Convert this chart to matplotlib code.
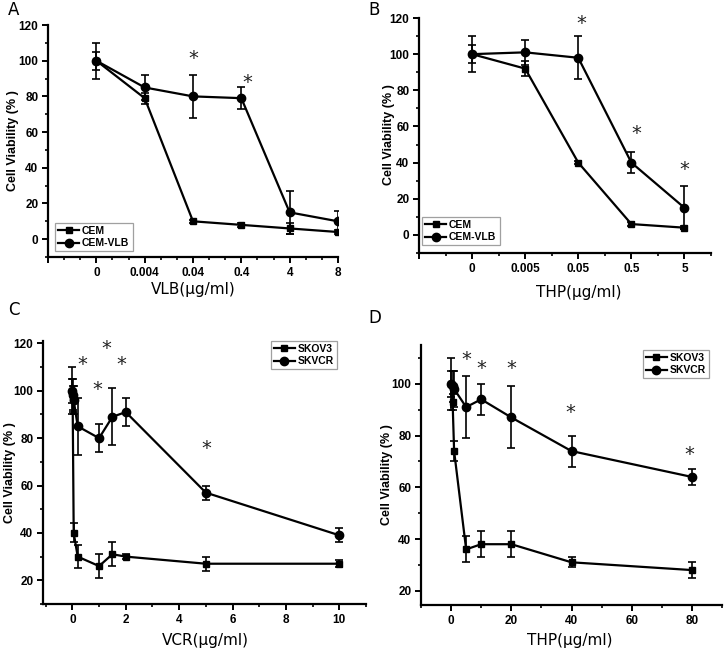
import matplotlib
matplotlib.use("Agg")
import matplotlib.pyplot as plt
from matplotlib.ticker import MultipleLocator, FixedLocator
from matplotlib import font_manager

# ---------------- data ----------------
# Panel A (categorical doses)
a_labels = ["0", "0.004", "0.04", "0.4", "4", "8"]
a_cem = [100, 79, 10, 8, 6, 4]
a_cem_err = [5, 3, 1, 1, 3, 1]
a_vlb = [100, 85, 80, 79, 15, 10]
a_vlb_err = [10, 7, 12, 6, 12, 6]
a_star_idx = [2.0, 3.12]
a_star_y = [101, 88]

# Panel B (categorical doses)
b_labels = ["0", "0.005", "0.05", "0.5", "5"]
b_cem = [100, 92, 40, 6, 4]
b_cem_err = [5, 4, 1, 1, 1]
b_vlb = [100, 101, 98, 40, 15]
b_vlb_err = [10, 7, 12, 6, 12]
b_star_idx = [2.05, 3.1, 4.0]
b_star_y = [117, 56, 36]

# Panel C (VCR)
c_x = [0, 0.01, 0.05, 0.2, 1, 1.5, 2, 5, 10]
c_skov3 = [100, 97, 40, 30, 26, 31, 30, 27, 27]
c_skov3_err = [5, 5, 4, 5, 5, 5, 1, 3, 1.5]
c_skvcr = [100, 98, 96, 85, 80, 89, 91, 57, 39]
c_skvcr_err = [10, 7, 6, 12, 6, 12, 6, 3, 3]
c_star_x = [0.37, 0.95, 1.27, 1.84, 5.0]
c_star_y = [111, 100.5, 118, 111, 75.5]

# Panel D (THP)
d_x = [0, 0.5, 1, 5, 10, 20, 40, 80]
d_skov3 = [100, 93, 74, 36, 38, 38, 31, 28]
d_skov3_err = [5, 3, 4, 5, 5, 5, 2, 3]
d_skvcr = [100, 99, 98, 91, 94, 87, 74, 64]
d_skvcr_err = [10, 6, 7, 12, 6, 12, 6, 3]
d_star_x = [5, 10, 20, 39.5, 79]
d_star_y = [109.3, 105.8, 105.8, 89, 72.5]

# ---------------- fonts ----------------
installed = {f.name for f in font_manager.fontManager.ttflist}
TICKFONT = "Liberation Sans Narrow" if "Liberation Sans Narrow" in installed else "Liberation Sans"
BOLDFONT = "Liberation Sans"

W, H = 725, 651
fig = plt.figure(figsize=(W / 100, H / 100), dpi=100)


def make_axes(left, right, top, bottom):
    return fig.add_axes([left / W, 1 - bottom / H, (right - left) / W, (bottom - top) / H])


def style(ax):
    for s in ("top", "right"):
        ax.spines[s].set_visible(False)
    for s in ("left", "bottom"):
        ax.spines[s].set_linewidth(1.6)
    ax.tick_params(which="major", direction="out", length=4, width=1.4, pad=3)
    ax.tick_params(which="minor", direction="out", length=2.5, width=1.2)
    for lab in ax.get_xticklabels() + ax.get_yticklabels():
        lab.set_fontfamily(TICKFONT)
        lab.set_fontweight("bold")
        lab.set_fontsize(8.5)


def series(ax, x, y, e, marker, ms):
    c = ax.errorbar(x, y, yerr=e, color="black", marker=marker, ms=ms, lw=1.6,
                    elinewidth=1.2, capsize=3, capthick=1.2)
    return c.lines[0]


def legend(ax, handles, labels, loc, anchor_px):
    leg = ax.legend(handles, labels, loc=loc,
                    bbox_to_anchor=(anchor_px[0] / W, 1 - anchor_px[1] / H),
                    bbox_transform=fig.transFigure, frameon=True, fancybox=False,
                    borderpad=0.3, labelspacing=0.2, handlelength=2.0, handletextpad=0.3,
                    borderaxespad=0, prop={"family": BOLDFONT, "weight": "bold", "size": 7.5})
    leg.get_frame().set_edgecolor("#888888")
    leg.get_frame().set_linewidth(0.9)


def stars(ax, xs, ys):
    for x, y in zip(xs, ys):
        ax.text(x, y, "*", ha="center", va="center", fontsize=14, color="#222222")


def ylabel(px, py):
    fig.text(px / W, 1 - py / H, "Cell Viability (% )", rotation=90, ha="center", va="center",
             fontfamily=BOLDFONT, fontweight="bold", fontsize=9)


def xlabel(px, py, text):
    fig.text(px / W, 1 - py / H, text, ha="center", va="center", fontsize=11,
             fontfamily="DejaVu Sans")


SQ, CI = 5, 6

# ---------------- Panel A ----------------
axA = make_axes(48, 338, 25, 257)
xa = list(range(1, len(a_labels) + 1))
hA = [series(axA, xa, a_cem, a_cem_err, "s", SQ),
      series(axA, xa, a_vlb, a_vlb_err, "o", CI)]
axA.set_xlim(0, len(a_labels))
axA.set_ylim(-10, 120)
axA.xaxis.set_major_locator(FixedLocator(range(0, len(a_labels) + 1)))
axA.set_xticklabels([""] + a_labels)
axA.xaxis.set_minor_locator(MultipleLocator(1 / 3))
axA.yaxis.set_major_locator(FixedLocator(range(0, 121, 20)))
axA.yaxis.set_minor_locator(MultipleLocator(10))
stars(axA, [i + 1 for i in a_star_idx], a_star_y)
legend(axA, hA, ["CEM", "CEM-VLB"], "upper left", (55, 223))
style(axA)
ylabel(13, 141)
xlabel(193, 290, "VLB(μg/ml)")

# ---------------- Panel B ----------------
axB = make_axes(419, 711, 18, 253)
xb = list(range(1, len(b_labels) + 1))
hB = [series(axB, xb, b_cem, b_cem_err, "s", SQ),
      series(axB, xb, b_vlb, b_vlb_err, "o", CI)]
axB.set_xlim(0, len(b_labels) + 0.5)
axB.set_ylim(-10, 120)
axB.xaxis.set_major_locator(FixedLocator(range(0, len(b_labels) + 1)))
axB.set_xticklabels([""] + b_labels)
axB.xaxis.set_minor_locator(MultipleLocator(0.5))
axB.yaxis.set_major_locator(FixedLocator(range(0, 121, 20)))
axB.yaxis.set_minor_locator(MultipleLocator(10))
stars(axB, [i + 1 for i in b_star_idx], b_star_y)
legend(axB, hB, ["CEM", "CEM-VLB"], "upper left", (422, 217))
style(axB)
ylabel(389, 135)
xlabel(579, 293, "THP(μg/ml)")

# ---------------- Panel C ----------------
axC = make_axes(43, 366, 341, 604)
hC = [series(axC, c_x, c_skov3, c_skov3_err, "s", SQ),
      series(axC, c_x, c_skvcr, c_skvcr_err, "o", CI)]
axC.set_xlim(-1.1, 11)
axC.set_ylim(10, 121)
axC.xaxis.set_major_locator(FixedLocator(range(0, 11, 2)))
axC.xaxis.set_minor_locator(FixedLocator(range(-1, 12, 2)))
axC.yaxis.set_major_locator(FixedLocator(range(20, 121, 20)))
axC.yaxis.set_minor_locator(MultipleLocator(10))
stars(axC, c_star_x, c_star_y)
legend(axC, hC, ["SKOV3", "SKVCR"], "upper right", (337, 341))
style(axC)
ylabel(10, 473)
xlabel(205, 641, "VCR(μg/ml)")

# ---------------- Panel D ----------------
axD = make_axes(421, 722, 345, 605)
hD = [series(axD, d_x, d_skov3, d_skov3_err, "s", SQ),
      series(axD, d_x, d_skvcr, d_skvcr_err, "o", CI)]
axD.set_xlim(-10, 90)
axD.set_ylim(14.5, 115)
axD.xaxis.set_major_locator(FixedLocator(range(0, 81, 20)))
axD.xaxis.set_minor_locator(FixedLocator(range(-10, 91, 20)))
axD.yaxis.set_major_locator(FixedLocator(range(20, 101, 20)))
axD.yaxis.set_minor_locator(MultipleLocator(10))
stars(axD, d_star_x, d_star_y)
legend(axD, hD, ["SKOV3", "SKVCR"], "upper right", (709, 350))
style(axD)
ylabel(387, 475)
xlabel(570, 641, "THP(μg/ml)")

# panel letters
for lt, px, py in [("A", 8, 10), ("B", 368, 10), ("C", 8, 310), ("D", 368, 318)]:
    fig.text(px / W, 1 - py / H, lt, ha="left", va="center", fontsize=12, fontfamily="DejaVu Sans")

fig.savefig("out.png", dpi=100)
